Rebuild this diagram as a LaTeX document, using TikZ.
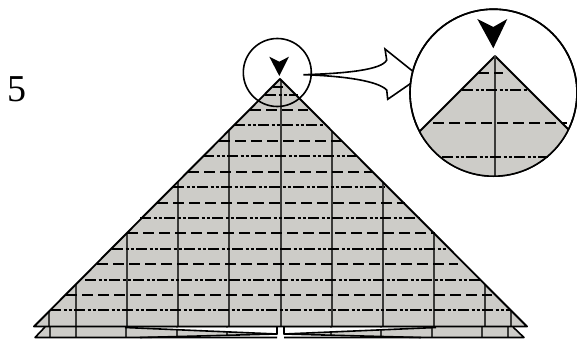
\documentclass[tikz,border=0pt]{standalone}
\usepackage{fontspec}
\setmainfont{Liberation Serif}
\usepackage{xcolor}
\usepackage{tikz}
\definecolor{paperGray}{HTML}{CDCCC8}
\definecolor{creaseGray}{HTML}{3A3A38}
\tikzset{
  foldValley/.style={line width=1.7pt, dash pattern=on 11pt off 5pt},
  foldMountain/.style={line width=1.7pt, dash pattern=on 11pt off 2.5pt on 3pt off 2pt on 3pt off 2.5pt},
  crease/.style={line width=1.2pt, draw=creaseGray},
  paperEdge/.style={line width=1.6pt, line join=round},
  lensRing/.style={circle, draw, line width=1.6pt, inner sep=0pt},
}
\begin{document}
\begin{tikzpicture}[x=1pt, y=-1pt]
    \useasboundingbox (0,0) rectangle (577,339);
    \node[font=\fontsize{38}{38}\selectfont] (stepNo) at (17.5,89) {5};
    % main flap
    \fill[paperGray] (280,79) -- (527,326) -- (34,326) -- cycle;
    \foreach \xx/\yy in {49/311, 76/284, 127/233, 178/182, 229/130, 281/80, 332/131, 383/182, 434/233, 485/284, 511/310}
        \draw[crease] (\xx,\yy) -- (\xx,327);
    \foreach \yy/\xa/\xb in {87/273/283, 110/250/308, 141/219/342, 172/188/372, 203/157/405, 233/127/435, 264/97/458, 295/66/492}
        \draw[foldValley] (\xa,\yy) -- (\xb,\yy);
    \foreach \yy/\xa/\xb in {95/265/298, 125/234/323, 156/203/357, 187/173/385, 218/140/420, 249/112/446, 280/85/480, 310/50/510}
        \draw[foldMountain] (\xa,\yy) -- (\xb,\yy);
    % lower layers
    \fill[paperGray] (45,327) -- (277,327) -- (277,337.5) -- (35,337.5) -- cycle;
    \fill[paperGray] (284,327) -- (513,327) -- (524,337.5) -- (284,337.5) -- cycle;
    \foreach \xx in {50, 76, 126, 177, 227, 331, 381, 432, 482, 508}
        \draw[crease] (\xx,327) -- (\xx,337);
    \fill[white] (125,327.5) -- (277,327.5) -- (277,334) -- cycle;
    \fill[white] (140,337.5) -- (277,337.5) -- (277,334) -- cycle;
    \fill[white] (436,327.5) -- (284,327.5) -- (284,334) -- cycle;
    \fill[white] (421,337.5) -- (284,337.5) -- (284,334) -- cycle;
    \fill[white] (277.6,327) rectangle (283.4,339);
    \draw[paperEdge] (125,327.5) -- (277,334) -- (277,327);
    \draw[paperEdge] (140,337.5) -- (277,334);
    \draw[paperEdge] (436,327.5) -- (284,334) -- (284,327);
    \draw[paperEdge] (421,337.5) -- (284,334);
    \draw[paperEdge] (45,327) -- (35,337.5) -- (277,337.5);
    \draw[paperEdge] (513,327) -- (524,337.5) -- (284,337.5);
    \draw[paperEdge, line width=1.9pt] (34,326.5) -- (280,79) -- (527,326.5) -- cycle;
    \fill (269.3,56.7) -- (279.3,61.7) -- (289,56.7) -- (279.3,76) -- cycle;
    % lens and hollow arrow
    \node[lensRing, minimum size=68pt] (lensSmall) at (277.3,72.5) {};
    \coordinate (arrowStart) at (303.3,74.7);
    \draw[line width=1.6pt, fill=white, line join=miter]
        (arrowStart) .. controls (345,73.5) and (382,70) .. (386.7,60) -- (385,49) -- (420,77)
        -- (387.7,99.3) -- (386.7,90) .. controls (378,81) and (345,76) .. cycle;
    \node[lensRing, minimum size=167pt, fill=white] (lensBig) at (493.5,92.7) {};
    \begin{scope}
        \clip (493.5,92.7) circle (83.5pt);
        \fill[paperGray] (495,56) -- (590,151) -- (590,190) -- (400,190) -- (400,151) -- cycle;
        \draw[paperEdge, line width=1.8pt] (400,151) -- (495,56) -- (590,151);
    \end{scope}
    \coordinate (bigApex) at (495,56);
    \draw[crease] (bigApex) -- (495,176);
    \draw[foldValley] (478,72.7) -- (503,72.7);
    \draw[foldMountain] (462,89.7) -- (527,89.7);
    \draw[foldValley] (433,123) -- (567,123);
    \draw[foldMountain] (442,157) -- (548,157);
    \fill (477.3,19) -- (493.3,27) -- (507.3,19) -- (493.3,48.3) -- cycle;
    \node[lensRing, minimum size=167pt] at (lensBig.center) {};
\end{tikzpicture}
\end{document}
